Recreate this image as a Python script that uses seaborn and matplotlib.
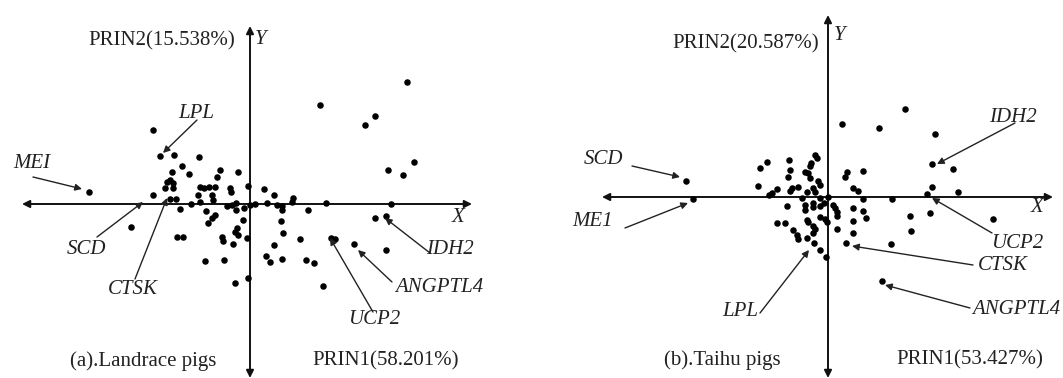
import matplotlib
matplotlib.use("Agg")
import matplotlib.pyplot as plt
import seaborn as sns

# PC scores (relative units, origin at the axes crossing)
landrace_pc1 = [-97, -90, -76, -51, -68, -78, -61, -30, -33, -12, -80, -83, -77, -85, -77,
                -97, -80, -74, -46, -41, -35, -20, -19, -2, 14, 24, -52, -50, -38, -37,
                -59, -70, -44, -23, -14, -14, -6, 5, 17, 27, 32, 32, 43, 42, 58, 76,
                -35, -38, -42, -7, 31, -119, -13, -15, -12, 33, -73, -67, -28, -27, -3,
                -17, 24, 50, 81, 85, -161, -45, -26, -15, 16, 20, 32, 56, 64, 73, 104,
                136, 125, 136, 141, 157, 70, 125, 115, 164, 138, 153, -2, 0, -18, -50]
landrace_pc2 = [74, 48, 49, 47, 38, 32, 30, 34, 27, 32, 24, 22, 21, 16, 16,
                9, 5, 5, 16, 17, 17, 16, 12, 18, 15, 9, 9, 2, 9, 4,
                0, -5, -7, -2, 1, -6, -4, 0, 1, -1, -2, -6, 6, 2, -6, 1,
                -11, -14, -19, -16, -17, -23, -24, -28, -31, -29, -33, -33, -33, -37, -34,
                -40, -41, -35, -34, -35, 12, -57, -56, -79, -52, -58, -55, -56, -59, -82, -40,
                -46, -14, -12, 0, 122, 99, 88, 79, 42, 34, 29, -74, -1, -1, 17]

taihu_pc1 = [14, 51, 77, 107, 104, 125, 104, 130, 99, 64, 35, 35, 38, 82, 102, 165,
             83, 63, 54, 18, 19, 17, 35, 25, 30, -61, -68, -39, -38, -40, -13, -11,
             -17, -18, -23, -20, -18, -10, -8, -30, -36, -38, -70, -51, -56, -59, -15,
             -13, -21, -26, -8, 0, -41, -23, -23, -15, -15, -8, -4, 5, 7, 9, 9, 25,
             -51, -43, -21, -20, -8, -3, -1, 25, -15, -13, -15, -35, -31, -30, 9, 25,
             -21, -14, -8, -2, -142, -135]
taihu_pc2 = [73, 69, 88, 63, 33, 28, 10, 5, 3, -2, -2, -14, -21, -19, -16, -22,
             -34, -47, -84, -46, 25, 20, 26, 9, 6, 35, 29, 37, 27, 20, 42, 39,
             34, 31, 25, 24, 19, 16, 12, 10, 9, 6, 11, 8, 4, 2, 9,
             5, 5, -1, -1, 0, -9, -8, -13, -6, -10, -9, -6, -8, -11, -15, -19, -11,
             -26, -26, -23, -25, -20, -22, -25, -24, -29, -32, -36, -33, -38, -42, -32, -36,
             -41, -46, -53, -60, 16, -2]

# gene labels: (text, label position, arrow start, arrow tip)
landrace_genes = [
    ("MEI", (-218, 40), (-217, 27), (-168, 15)),
    ("LPL", (-54, 91), (-53, 84), (-87, 51)),
    ("SCD", (-163, -46), (-153, -33), (-107, 2)),
    ("CTSK", (-117, -86), (-115, -75), (-83, 6)),
    ("IDH2", (200, -46), (180, -49), (135, -14)),
    ("ANGPTL4", (189, -83), (142, -78), (108, -46)),
    ("UCP2", (124, -116), (123, -108), (80, -34)),
]
taihu_genes = [
    ("SCD", (-225, 37), (-196, 31), (-148, 20)),
    ("ME1", (-235, -25), (-203, -31), (-140, -6)),
    ("LPL", (-88, -115), (-68, -116), (-19, -53)),
    ("IDH2", (185, 79), (187, 74), (109, 33)),
    ("UCP2", (189, -47), (164, -36), (104, -1)),
    ("CTSK", (175, -68), (145, -68), (24, -49)),
    ("ANGPTL4", (188, -113), (142, -111), (57, -88)),
]

sns.set_theme(style="white")
plt.rcParams["font.family"] = ["Liberation Serif", "DejaVu Serif"]

fig = plt.figure(figsize=(10.63, 3.78), dpi=100)
ax_a = fig.add_axes([0, 0, 531 / 1063, 1])
ax_b = fig.add_axes([531 / 1063, 0, 532 / 1063, 1])


def draw_panel(ax, pc1, pc2, genes, xlim, ylim, xaxis, yaxis,
               title, prin1, prin2, title_pos, prin1_pos, prin2_pos, ypos, xpos):
    ax.set_xlim(*xlim)
    ax.set_ylim(*ylim)
    ax.axis("off")
    axis_arrow = dict(arrowstyle="<|-|>", color="#111111", lw=1.4,
                      mutation_scale=11, shrinkA=0, shrinkB=0)
    ax.annotate("", xy=(xaxis[1], 0), xytext=(xaxis[0], 0), arrowprops=axis_arrow)
    ax.annotate("", xy=(0, yaxis[1]), xytext=(0, yaxis[0]), arrowprops=axis_arrow)
    sns.scatterplot(x=pc1, y=pc2, ax=ax, color="black", s=22, linewidth=0,
                    legend=False, zorder=3)
    for name, txt, start, tip in genes:
        ax.text(*txt, name, fontsize=15, style="italic", ha="center", va="center",
                color="#222222")
        ax.annotate("", xy=tip, xytext=start,
                    arrowprops=dict(arrowstyle="-|>", color="#222222", lw=1.0,
                                    mutation_scale=10, shrinkA=0, shrinkB=0))
    ax.text(*title_pos, title, fontsize=15, ha="center", va="center", color="#222222")
    ax.text(*prin1_pos, prin1, fontsize=15, ha="center", va="center", color="#222222")
    ax.text(*prin2_pos, prin2, fontsize=15, ha="center", va="center", color="#222222")
    ax.text(*ypos, "Y", fontsize=15, style="italic", ha="center", va="center", color="#222222")
    ax.text(*xpos, "X", fontsize=15, style="italic", ha="center", va="center", color="#222222")


draw_panel(ax_a, landrace_pc1, landrace_pc2, landrace_genes,
           (-250, 281), (-174, 204), (-228, 222), (-174, 178),
           "(a).Landrace pigs", "PRIN1(58.201%)", "PRIN2(15.538%)",
           (-107, -157), (136, -157), (-88, 163), (11, 164), (208, -14))

draw_panel(ax_b, taihu_pc1, taihu_pc2, taihu_genes,
           (-297, 235), (-181, 197), (-226, 225), (-181, 182),
           "(b).Taihu pigs", "PRIN1(53.427%)", "PRIN2(20.587%)",
           (-106, -163), (142, -163), (-82, 153), (12, 161), (209, -11))

fig.savefig("out.png", dpi=100, facecolor="white")
plt.close()
